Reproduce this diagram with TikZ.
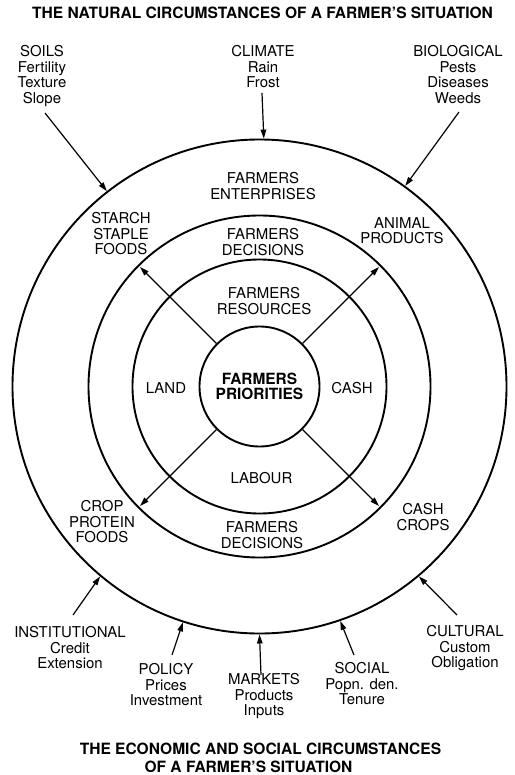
\documentclass[tikz,border=0pt]{standalone}
\usepackage{fontspec}
\setmainfont{TeX Gyre Heros}
\usetikzlibrary{arrows.meta}
\begin{document}
\begin{tikzpicture}[x=1bp,y=-1bp,
  lbl/.style={align=center, inner sep=0pt, anchor=north, font=\fontsize{15}{15.8}\selectfont},
  ttl/.style={inner sep=0pt, anchor=north, font=\fontsize{15.6}{18}\selectfont\bfseries},
  ring/.style={draw, circle, line width=1.9bp, inner sep=0pt},
  arr/.style={line width=1.2bp, -{Triangle[length=9bp,width=5.5bp]}},
]
\useasboundingbox (0,0) rectangle (515,775);

% rings
\node[ring, minimum size=494bp] (c4) at (259.5,386.5) {};
\node[ring, minimum size=342bp] (c3) at (259.5,386.5) {};
\node[ring, minimum size=254bp] (c2) at (259.5,386.5) {};
\node[ring, minimum size=120bp, align=center,
      font=\fontsize{15.5}{15}\selectfont\bfseries] (c1) at (259.5,386.5) {FARMERS\\PRIORITIES};

% titles
\node[ttl] (t1) at (262.5,7) {THE NATURAL CIRCUMSTANCES OF A FARMER'S SITUATION};
\node[ttl] (t2) at (260.5,743) {THE ECONOMIC AND SOCIAL CIRCUMSTANCES};
\node[ttl] (t3) at (248.5,760.5) {OF A FARMER'S SITUATION};

% outer labels
\node[lbl] (soils) at (42,45) {SOILS\\Fertility\\Texture\\Slope};
\node[lbl] (climate) at (263,45) {CLIMATE\\Rain\\Frost};
\node[lbl] (bio) at (458,45) {BIOLOGICAL\\Pests\\Diseases\\Weeds};
\node[lbl] (inst) at (70,626) {INSTITUTIONAL\\Credit\\Extension};
\node[lbl] (policy) at (166,663) {POLICY\\Prices\\Investment};
\node[lbl] (markets) at (264,673) {MARKETS\\Products\\Inputs};
\node[lbl] (social) at (362,662) {SOCIAL\\Popn. den.\\Tenure};
\node[lbl] (cult) at (465,625) {CULTURAL\\Custom\\Obligation};

% ring labels
\node[lbl] (ent) at (263,172) {FARMERS\\ENTERPRISES};
\node[lbl] (dec1) at (263,228) {FARMERS\\DECISIONS};
\node[lbl] (res) at (264,287) {FARMERS\\RESOURCES};
\node[lbl] (starch) at (121,212) {STARCH\\STAPLE\\FOODS};
\node[lbl] (animal) at (402,217) {ANIMAL\\PRODUCTS};
\node[lbl] (land) at (166,382) {LAND};
\node[lbl] (cash) at (352,382) {CASH};
\node[lbl] (labour) at (261.5,472) {LABOUR};
\node[lbl] (dec2) at (262,521.5) {FARMERS\\DECISIONS};
\node[lbl] (crop) at (102,500) {CROP\\PROTEIN\\FOODS};
\node[lbl] (cashcrops) at (423,503) {CASH\\CROPS};

% arrow tails
\coordinate (soilsT) at (45,113);
\coordinate (climateT) at (262,93);
\coordinate (bioT) at (459,112);
\coordinate (instT) at (73,615);
\coordinate (policyT) at (172,655);
\coordinate (marketsT) at (261,675);
\coordinate (socialT) at (354,655);
\coordinate (cultT) at (457,615);

% outer arrows
\draw[arr] (soilsT) -- (c4.128.2);
\draw[arr] (climateT) -- (c4.89.4);
\draw[arr] (bioT) -- (c4.54);
\draw[arr] (instT) -- (c4.230.4);
\draw[arr] (policyT) -- (c4.252);
\draw[arr] (marketsT) -- (c4.270.4);
\draw[arr] (socialT) -- (c4.289.2);
\draw[arr] (cultT) -- (c4.310.4);

% inner arrows
\draw[arr, shorten >=3bp] (c1.135) -- (c3.135);
\draw[arr, shorten >=3bp] (c1.45) -- (c3.45);
\draw[arr, shorten >=3bp] (c1.225) -- (c3.225);
\draw[arr, shorten >=3bp] (c1.315) -- (c3.315);
\end{tikzpicture}
\end{document}
